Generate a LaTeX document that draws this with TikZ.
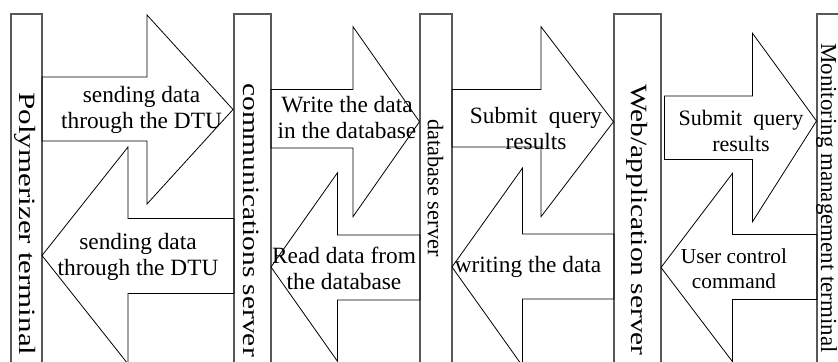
\documentclass[tikz,border=0pt]{standalone}
\usepackage{fontspec}
\setmainfont{Liberation Serif}
\tikzset{
  bar/.style={draw=black!65, line width=1.1pt},
  blockarrow/.style={draw=black, line width=0.6pt, line join=miter},
  lbl/.style={inner sep=0pt, align=center, font=\fontsize{17.5}{19.5}\selectfont},
  vlbl/.style={inner sep=0pt, rotate=-90, font=\fontsize{17.5}{19}\selectfont}
}
\begin{document}
\begin{tikzpicture}[x=0.75pt, y=-0.75pt]
\useasboundingbox (0,0) rectangle (838,361);
\clip (0,0) rectangle (838,361);
% bars
\draw[bar] (11,362) -- (11,14) -- (42,14) -- (42,362);
\draw[bar] (234,362) -- (234,14) -- (271,14) -- (271,362);
\draw[bar] (420,362) -- (420,14) -- (452,14) -- (452,362);
\draw[bar] (614,362) -- (614,14) -- (661,14) -- (661,362);
\draw[bar] (817,362) -- (817,14) -- (840,14);
% arrows
\draw[blockarrow] (42,77) -- (147,77) -- (147,15) -- (233,109.5) -- (147,204) -- (147,141) -- (42,141) -- cycle;
\draw[blockarrow] (234,218.5) -- (128,218.5) -- (128,147) -- (42,255.5) -- (128,364) -- (128,293.5) -- (234,293.5) -- cycle;
\draw[blockarrow] (271,89.5) -- (353,89.5) -- (353,26.7) -- (419.5,121.7) -- (353,216.7) -- (353,148) -- (271,148) -- cycle;
\draw[blockarrow] (420,235) -- (337.5,235) -- (337.5,172.7) -- (271,267) -- (337.5,361.3) -- (337.5,300) -- (420,300) -- cycle;
\draw[blockarrow] (452,89.5) -- (541,89.5) -- (541,26.7) -- (613.5,121.7) -- (541,216.7) -- (541,147) -- (452,147) -- cycle;
\draw[blockarrow] (614,234) -- (522.5,234) -- (522.5,168) -- (452,267) -- (522.5,366) -- (522.5,299) -- (614,299) -- cycle;
\draw[blockarrow] (664.5,96) -- (752.5,96) -- (752.5,33.3) -- (816.5,121) -- (752.5,221.7) -- (752.5,159.5) -- (664.5,159.5) -- cycle;
\draw[blockarrow] (817,234.5) -- (732.5,234.5) -- (732.5,173.3) -- (661,267.5) -- (732.5,361.7) -- (732.5,299.5) -- (817,299.5) -- cycle;
% vertical labels
\node[vlbl] (pt) at (25,224) {\scalebox{1.33}[1]{Polymerizer terminal}};
\node[vlbl] (cs) at (251,220) {\scalebox{1.26}[1]{communications server}};
\node[vlbl, font=\fontsize{16.75}{19}\selectfont] (ds) at (435.5,188) {database server};
\node[vlbl] (ws) at (637.5,220) {\scalebox{1.26}[1]{Web/application server}};
\node[vlbl, font=\fontsize{17.2}{19}\selectfont] (mt) at (826.5,198) {Monitoring management terminal};
% arrow labels
\node[lbl] (a1) at (141.5,110) {sending data\\through the DTU};
\node[lbl] (a2) at (138,257) {sending data\\through the DTU};
\node[lbl] (a3) at (347,118) {Write the data\\in the database};
\node[lbl] (a4) at (344,268) {Read data from\\the database};
\node[lbl] (a5) at (536,129) {Submit\ \ query\\results};
\node[lbl] (a6) at (528,267) {writing the data};
\node[lbl, font=\fontsize{16.5}{19.5}\selectfont] (a7) at (741,131) {Submit\ \ query\\results};
\node[lbl, font=\fontsize{16}{19}\selectfont] (a8) at (734,269) {User control\\command};
\end{tikzpicture}
\end{document}
